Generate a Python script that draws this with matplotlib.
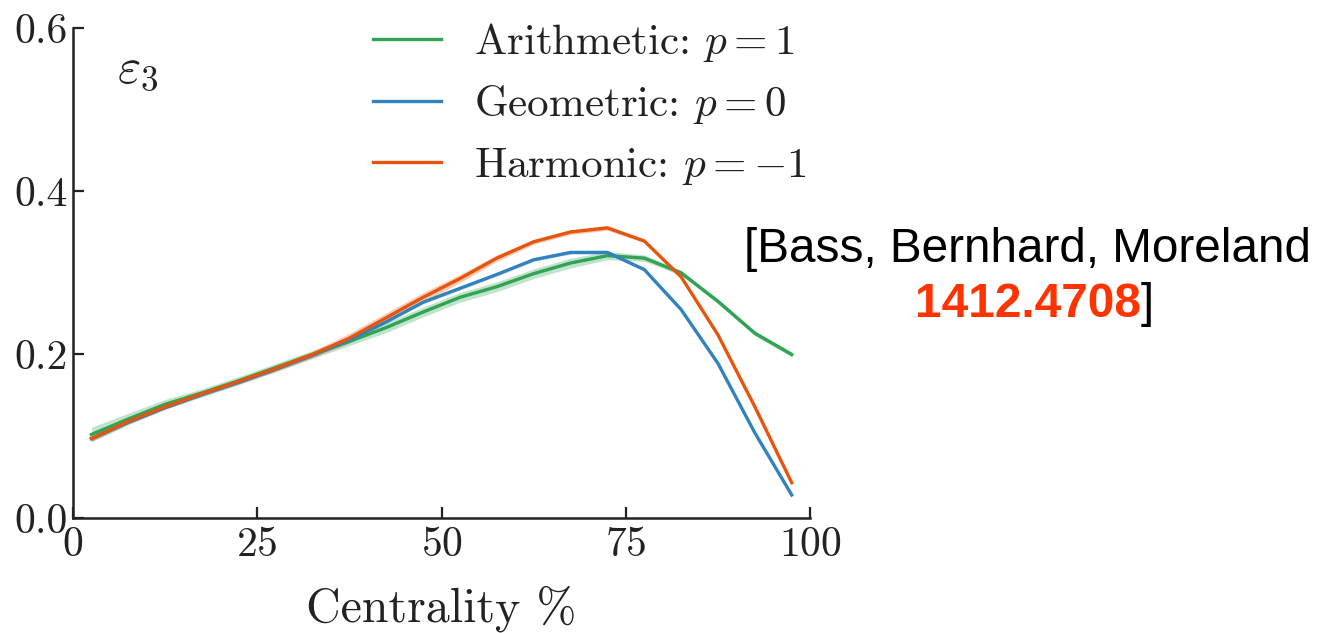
import matplotlib
matplotlib.use("Agg")
import matplotlib.pyplot as plt
import numpy as np

plt.rcParams["font.family"] = "cmr10"
plt.rcParams["mathtext.fontset"] = "cm"
plt.rcParams["axes.unicode_minus"] = False
plt.rcParams["axes.formatter.use_mathtext"] = True

# centrality bins (5% wide, bin centres)
centrality = [2.5, 7.5, 12.5, 17.5, 22.5, 27.5, 32.5, 37.5, 42.5, 47.5,
              52.5, 57.5, 62.5, 67.5, 72.5, 77.5, 82.5, 87.5, 92.5, 97.5]

eps3_arith = [0.102, 0.121, 0.139, 0.153, 0.168, 0.184, 0.200, 0.216, 0.233, 0.252,
              0.270, 0.283, 0.299, 0.312, 0.321, 0.318, 0.300, 0.265, 0.226, 0.200]
eps3_geom = [0.097, 0.117, 0.135, 0.151, 0.166, 0.182, 0.199, 0.218, 0.240, 0.264,
             0.281, 0.298, 0.316, 0.325, 0.325, 0.304, 0.255, 0.189, 0.104, 0.028]
eps3_harm = [0.097, 0.118, 0.136, 0.152, 0.167, 0.183, 0.200, 0.220, 0.245, 0.270,
             0.293, 0.318, 0.338, 0.350, 0.355, 0.339, 0.295, 0.224, 0.136, 0.043]

# statistical uncertainty (half width of shaded band)
err_arith = [0.009, 0.007, 0.006, 0.005, 0.005, 0.005, 0.005, 0.005, 0.006, 0.006,
             0.006, 0.006, 0.006, 0.006, 0.005, 0.004, 0.003, 0.003, 0.003, 0.003]
err_geom = [0.003, 0.002, 0.002, 0.002, 0.002, 0.002, 0.002, 0.002, 0.002, 0.002,
            0.002, 0.002, 0.002, 0.002, 0.002, 0.002, 0.002, 0.002, 0.002, 0.002]
err_harm = [0.003, 0.003, 0.003, 0.003, 0.003, 0.004, 0.004, 0.006, 0.006, 0.006,
            0.005, 0.004, 0.003, 0.003, 0.003, 0.002, 0.002, 0.002, 0.002, 0.002]

series = [
    (eps3_arith, err_arith, "#31a354", "Arithmetic: $p=1$"),
    (eps3_geom, err_geom, "#3182bd", "Geometric: $p=0$"),
    (eps3_harm, err_harm, "#e6550d", "Harmonic: $p={-}1$"),
]

fig = plt.figure(figsize=(13.27, 6.33), dpi=100)
ax = fig.add_axes([0.055, 0.182, 0.5555, 0.774])

x = np.array(centrality)
for y, err, color, label in series:
    y = np.array(y)
    err = np.array(err)
    ax.fill_between(x, y - err, y + err, color=color, alpha=0.3, lw=0)
    ax.plot(x, y, color=color, lw=2.4, label=label)

ax.set_xlim(0, 100)
ax.set_ylim(0, 0.6)
ax.set_xticks([0, 25, 50, 75, 100])
ax.set_yticks([0.0, 0.2, 0.4, 0.6])
ax.set_yticklabels(["0.0", "0.2", "0.4", "0.6"])
for side in ("top", "right"):
    ax.spines[side].set_visible(False)
for side in ("left", "bottom"):
    ax.spines[side].set_linewidth(1.8)
    ax.spines[side].set_color("#222222")
ax.tick_params(direction="in", length=8, width=1.6, labelsize=30, pad=4,
               color="#222222", labelcolor="#222222")
ax.tick_params(axis="x", pad=6)
ax.set_xlabel("Centrality %", fontsize=34.5, color="#222222", labelpad=16)

ax.text(6.0, 0.533, r"$\varepsilon_3$", fontsize=36, color="#222222", va="baseline")

leg = ax.legend(loc="upper left", bbox_to_anchor=(0.384, 1.05), frameon=False,
                fontsize=31, handlelength=1.58, handletextpad=0.77,
                labelspacing=0.46, borderaxespad=0)
for t in leg.get_texts():
    t.set_color("#222222")

# reference note
fig.text(1028 / 1327, 1 - 262 / 633, "[Bass, Bernhard, Moreland",
         family="Liberation Sans", fontsize=34.4, ha="center", va="baseline")
fig.text(1141 / 1327, 1 - 317 / 633, "1412.4708", family="Liberation Sans",
         fontsize=34.4, fontweight="bold", color="#ff3300", ha="right", va="baseline")
fig.text(1141 / 1327, 1 - 317 / 633, "]", family="Liberation Sans",
         fontsize=34.4, ha="left", va="baseline")

fig.savefig("out.png", dpi=100)
